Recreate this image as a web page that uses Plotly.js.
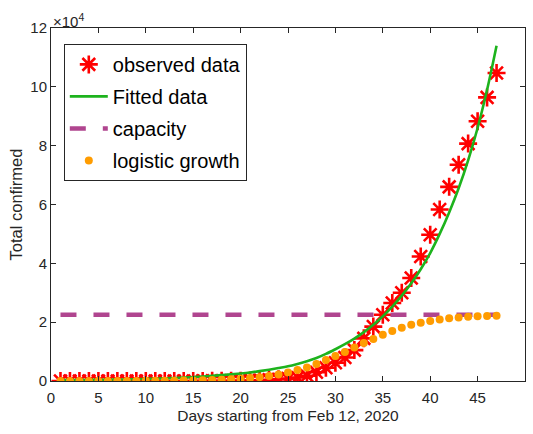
<!DOCTYPE html>
<html>
<head>
<meta charset="utf-8">
<script src="https://cdn.plot.ly/plotly-3.0.1.min.js"></script>
<style>html,body{margin:0;padding:0;background:#fff;}#chart{width:533px;height:434px;}</style>
</head>
<body>
<div id="chart"></div>
<script>
const days = [1,2,3,4,5,6,7,8,9,10,11,12,13,14,15,16,17,18,19,20,21,22,23,24,25,26,27,28,29,30,31,32,33,34,35,36,37,38,39,40,41,42,43,44,45,46,47];
const observed = [3,3,3,3,3,3,3,3,3,3,5,8,12,18,25,35,53,70,98,120,180,260,400,560,800,1200,1800,3000,4500,6200,8000,10500,14500,18500,22500,26500,30000,35000,42300,49700,58300,66000,73500,80700,88300,96400,104700];
const fitted = [300,320,350,380,420,460,510,560,620,700,780,880,1000,1150,1350,1550,1750,2000,2250,2550,2900,3350,3850,4400,5000,5800,6700,7800,9200,10800,12500,14400,16600,19100,22000,25300,29000,33200,38000,43500,50000,57300,65500,75000,86000,99000,114000];
const logistic = [4,5,7,9,12,16,20,27,36,48,64,85,110,150,200,260,350,460,600,800,1000,1300,1700,2200,2900,3700,4600,5800,7100,8500,9900,11400,12900,14300,15700,17000,18100,19100,19800,20400,20900,21300,21600,21800,22000,22100,22200];
const capacity = 22500;
const capacityDays = [1,47];
const xTicks = [0,5,10,15,20,25,30,35,40,45,50];
const yTickVals = [0,20000,40000,60000,80000,100000,120000];
const yTickText = ['0','2','4','6','8','10','12'];

const axisColor = '#262626';
const traces = [
  {x: days, y: observed, name: 'observed data', type: 'scatter', mode: 'markers', legendgroup: 'a',
   marker: {symbol: 'asterisk-open', size: 15, color: '#ff0000', line: {color: '#ff0000', width: 2.6}}},
  {x: days, y: fitted, name: 'Fitted data', type: 'scatter', mode: 'lines', legendgroup: 'b',
   line: {color: '#1db31d', width: 2.6, shape: 'spline'}},
  {x: capacityDays, y: capacityDays.map(() => capacity), name: 'capacity', type: 'scatter', mode: 'lines', legendgroup: 'c',
   line: {color: '#b0458f', width: 4.5, dash: '16px,17px'}},
  {x: days, y: logistic, name: 'logistic growth', type: 'scatter', mode: 'markers', legendgroup: 'd',
   marker: {symbol: 'circle', size: 8, color: '#ff9c00'}}
];

const layout = {
  width: 533, height: 434,
  margin: {l: 51, r: 8, t: 28, b: 53, pad: 0},
  paper_bgcolor: '#ffffff', plot_bgcolor: '#ffffff',
  font: {family: 'Liberation Sans, Arial, sans-serif', color: axisColor, size: 15},
  showlegend: true,
  legend: {x: 0.027, y: 0.955, xanchor: 'left', yanchor: 'top', bgcolor: '#ffffff',
           bordercolor: axisColor, borderwidth: 1, font: {size: 20, color: '#000000'},
           tracegroupgap: 3, itemwidth: 38},
  xaxis: {range: [0, 50], tickvals: xTicks, ticks: 'inside', ticklen: 5, tickcolor: axisColor,
          showline: true, linecolor: axisColor, linewidth: 1, mirror: 'ticks', showgrid: false, zeroline: false,
          tickfont: {size: 15, color: axisColor}, ticklabelstandoff: 3,
          title: {text: 'Days starting from Feb 12, 2020', font: {size: 15.5, color: axisColor}, standoff: 5}},
  yaxis: {range: [0, 120000], tickvals: yTickVals, ticktext: yTickText, ticks: 'inside', ticklen: 5, tickcolor: axisColor,
          showline: true, linecolor: axisColor, linewidth: 1, mirror: 'ticks', showgrid: false, zeroline: false,
          tickfont: {size: 15, color: axisColor},
          title: {text: 'Total confirmed', font: {size: 16.5, color: axisColor}, standoff: 3}},
  annotations: [{xref: 'paper', yref: 'paper', x: 0, y: 1.02, xanchor: 'left', yanchor: 'middle',
                 text: '×10<sup>4</sup>', showarrow: false, font: {size: 15, color: axisColor}}]
};

Plotly.newPlot('chart', traces, layout, {displayModeBar: false, staticPlot: true});
</script>
</body>
</html>
